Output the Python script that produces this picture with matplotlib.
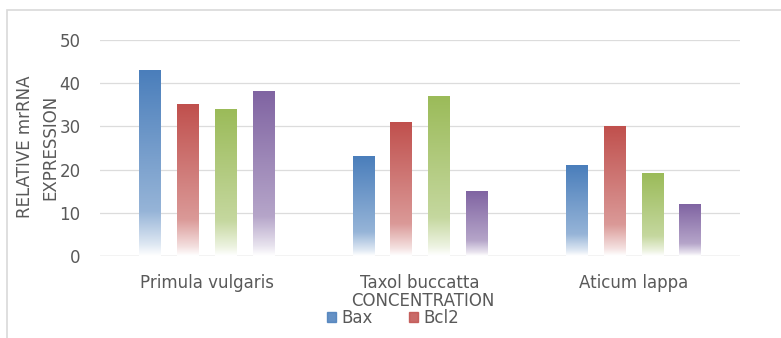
import numpy as np
import matplotlib
matplotlib.use("Agg")
import matplotlib.pyplot as plt
from matplotlib.patches import Rectangle
from matplotlib.colors import to_rgb

categories = ["Primula vulgaris", "Taxol buccatta", "Aticum lappa"]
series_names = ["Bax", "Bcl2", "Series3", "Series4"]
bax = [43, 23, 21]
bcl2 = [35, 31, 30]
series3 = [34, 37, 19]
series4 = [38, 15, 12]
yticks = [0, 10, 20, 30, 40, 50]
legend_names = ["Bax", "Bcl2"]

colors = ["#4a7ebb", "#c0504d", "#9bbb59", "#8064a2"]
values = [bax, bcl2, series3, series4]

W, H = 781, 338
fig = plt.figure(figsize=(W / 100, H / 100), dpi=100)
ax = fig.add_axes([100 / W, 82 / H, 640 / W, 216 / H])

# chart frame
fig.patches.append(Rectangle((7 / W, -0.1), 1.2, (H - 10) / H + 0.1,
                             transform=fig.transFigure, fill=False,
                             edgecolor="#d9d9d9", linewidth=1.2, zorder=0))

x = np.arange(len(categories))
spacing = 0.177
width = 0.1

tgrid = np.linspace(0, 1, 200)
stops_t = [0.0, 0.06, 0.24, 1.0]
stops_w = [1.0, 0.82, 0.42, 0.0]
wmix = np.interp(tgrid, stops_t, stops_w)

for i, (vals, col) in enumerate(zip(values, colors)):
    c = np.array(to_rgb(col))
    img = (1 - wmix)[:, None] * c[None, :] + wmix[:, None] * np.ones(3)[None, :]
    img = img[:, None, :]
    for xi, v in zip(x, vals):
        cx = xi + (i - 1.5) * spacing
        ax.imshow(img, extent=(cx - width / 2, cx + width / 2, 0, v),
                  origin="lower", aspect="auto", zorder=2, interpolation="bilinear")

ax.set_xlim(-0.5, len(categories) - 0.5)
ax.set_ylim(0, 50)
ax.set_yticks(yticks)
ax.set_xticks(x)
ax.set_xticklabels(categories)
ax.grid(axis="y", color="#dcdcdc", linewidth=0.9, zorder=0)
ax.set_axisbelow(True)
for s in ax.spines.values():
    s.set_visible(False)
ax.axhline(0, color="#d9d9d9", linewidth=1, zorder=1)
ax.tick_params(axis="both", length=0, labelsize=12, labelcolor="#595959")
ax.tick_params(axis="y", pad=14)
ax.tick_params(axis="x", pad=13)

fig.text(38 / W, 1 - 147 / H, "RELATIVE mrRNA\nEXPRESSION", rotation=90,
         ha="center", va="center", fontsize=12, color="#595959", linespacing=1.5)
fig.text(423 / W, 1 - 301 / H, "CONCENTRATION", ha="center", va="center",
         fontsize=12, color="#595959")

handles = [Rectangle((0, 0), 1, 1, color=colors[0], alpha=0.85),
           Rectangle((0, 0), 1, 1, color=colors[1], alpha=0.85)]
fig.legend(handles, legend_names, loc="center", bbox_to_anchor=(393 / W, 1 - 318 / H),
           ncol=2, frameon=False, fontsize=12, labelcolor="#595959",
           handlelength=0.55, handleheight=0.55, handletextpad=0.3, columnspacing=2.2,
           borderpad=0, borderaxespad=0)

fig.savefig("out.png", dpi=100, facecolor="white")
